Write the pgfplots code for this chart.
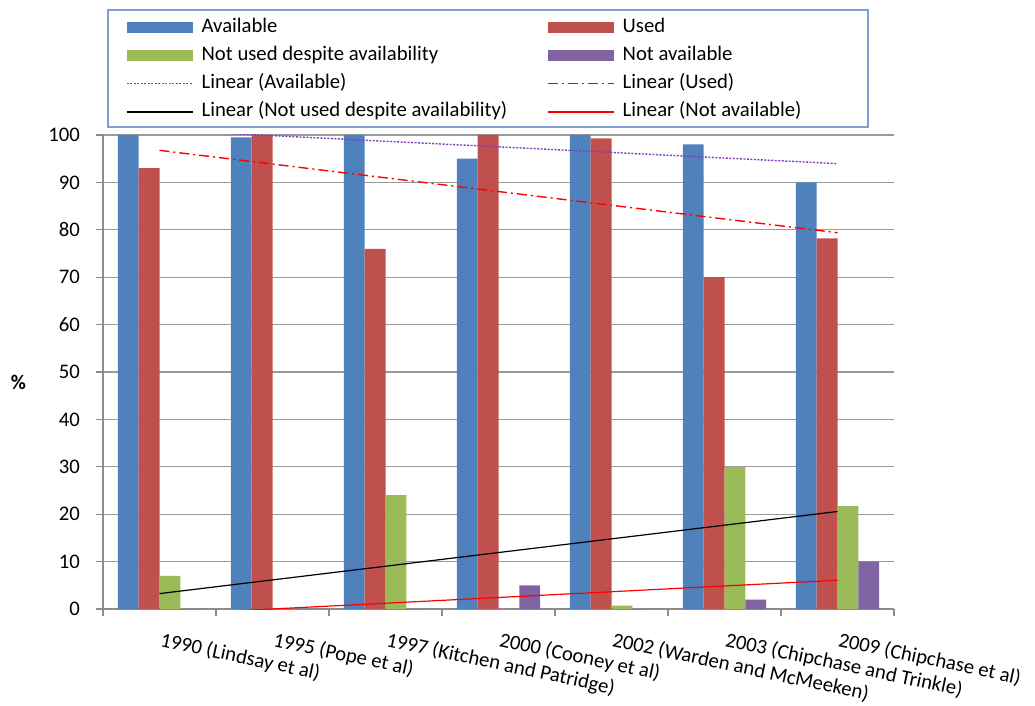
\documentclass[border=0pt]{standalone}
\usepackage{fontspec}
\setmainfont{Carlito}
\usepackage{pgfplots}
\pgfplotsset{compat=1.18}

\definecolor{cAvail}{HTML}{4F81BD}
\definecolor{cUsed}{HTML}{C0504D}
\definecolor{cNotUsed}{HTML}{9BBB59}
\definecolor{cNotAvail}{HTML}{8064A2}
\definecolor{cTrendAvail}{HTML}{7F3FBF}
\definecolor{gridgray}{HTML}{9A9A9A}
\definecolor{axisgray}{HTML}{8C8C8C}
\definecolor{legendframe}{HTML}{7F9FCF}

\newcommand{\chartfont}{\fontsize{20.7bp}{24bp}\selectfont}

\pgfplotsset{
  barleg/.style={legend image code/.code={\fill[##1] (0bp,-5.5bp) rectangle (66bp,5.5bp);}},
  lineleg/.style={legend image code/.code={\draw[##1] (0bp,0bp) -- (66bp,0bp);}},
}

\begin{document}
\begin{tikzpicture}[font=\chartfont]
\useasboundingbox (0,0) rectangle (1035bp,706bp);
\begin{axis}[
  at={(103bp,97bp)}, anchor=south west,
  width=791bp, height=474bp, scale only axis,
  xmin=0.5, xmax=7.5, ymin=0, ymax=100,
  axis x line*=bottom, axis y line*=left,
  axis line style={draw=axisgray, line width=1.2bp},
  ytick={0,10,...,100},
  ymajorgrids=true,
  grid style={draw=gridgray, line width=1.2bp},
  xtick={1,...,7},
  xticklabels={1990 (Lindsay et al),1995 (Pope et al),1997 (Kitchen and Patridge),2000 (Cooney et al),2002 (Warden and McMeeken),2003 (Chipchase and Trinkle),2009 (Chipchase et al)},
  minor xtick={0.5,1.5,...,7.5},
  tick align=outside,
  major tick length=7bp, minor tick length=7bp,
  major x tick style={draw=none},
  minor x tick style={draw=axisgray, line width=1.2bp},
  major y tick style={draw=axisgray, line width=1.2bp},
  /pgf/number format/assume math mode=true,
  tick label style={font=\chartfont},
  yticklabel style={anchor=east, inner sep=0pt, xshift=-16bp},
  xticklabel style={anchor=north west, inner sep=0pt, xshift=3bp, yshift=-15bp, rotate=-12},
  ylabel={\bfseries\%},
  ylabel style={at={(axis description cs:-0.107,0.477)}, rotate=-90, anchor=center, font=\chartfont},
  legend columns=2,
  legend cell align=left,
  legend style={
    at={(axis description cs:0.0291,1.2471)}, anchor=north west,
    draw=none, fill=none, font=\chartfont,
    inner sep=0bp,
    nodes={inner sep=0bp, text height=14bp, text depth=4bp},
    row sep=10.3bp,
    /tikz/column 1/.style={column sep=8bp},
    /tikz/column 2/.style={column sep=40bp},
    /tikz/column 3/.style={column sep=8bp},
  },
]
% survey bars: available / used / not used despite availability / not available
\addplot[ybar, bar width=0.184, bar shift=-0.276, fill=cAvail, draw=none, barleg]
  coordinates {(1,100) (2,99.5) (3,100) (4,95) (5,100) (6,98) (7,90)};
\addlegendentry{Available}
\addplot[ybar, bar width=0.184, bar shift=-0.092, fill=cUsed, draw=none, barleg]
  coordinates {(1,93) (2,100) (3,76) (4,100) (5,99.3) (6,70) (7,78.2)};
\addlegendentry{Used}
\addplot[ybar, bar width=0.184, bar shift=0.092, fill=cNotUsed, draw=none, barleg]
  coordinates {(1,7) (2,0) (3,24) (4,0) (5,0.7) (6,30) (7,21.7)};
\addlegendentry{Not used despite availability}
\addplot[ybar, bar width=0.184, bar shift=0.276, fill=cNotAvail, draw=none, barleg]
  coordinates {(1,0) (2,0) (3,0) (4,5) (5,0) (6,2) (7,10)};
\addlegendentry{Not available}
% linear trend lines
\addplot[sharp plot, draw=cTrendAvail, line width=1.4bp, dash pattern=on 2bp off 1.5bp, lineleg]
  coordinates {(1,101.04) (7,93.96)};
\addlegendentry{Linear (Available)}
\addplot[sharp plot, draw=red, line width=1.4bp, dash pattern=on 10bp off 4bp on 2bp off 4bp, lineleg]
  coordinates {(1,96.76) (7,79.38)};
\addlegendentry{Linear (Used)}
\addplot[sharp plot, draw=black, line width=1.2bp, lineleg]
  coordinates {(1,3.25) (7,20.57)};
\addlegendentry{Linear (Not used despite availability)}
\addplot[sharp plot, draw=red, line width=1.2bp, lineleg]
  coordinates {(1,-1.21) (7,6.07)};
\addlegendentry{Linear (Not available)}
\end{axis}
% legend frame
\draw[legendframe, line width=1.2bp] (108bp,696bp) rectangle (868bp,579bp);
\end{tikzpicture}
\end{document}
